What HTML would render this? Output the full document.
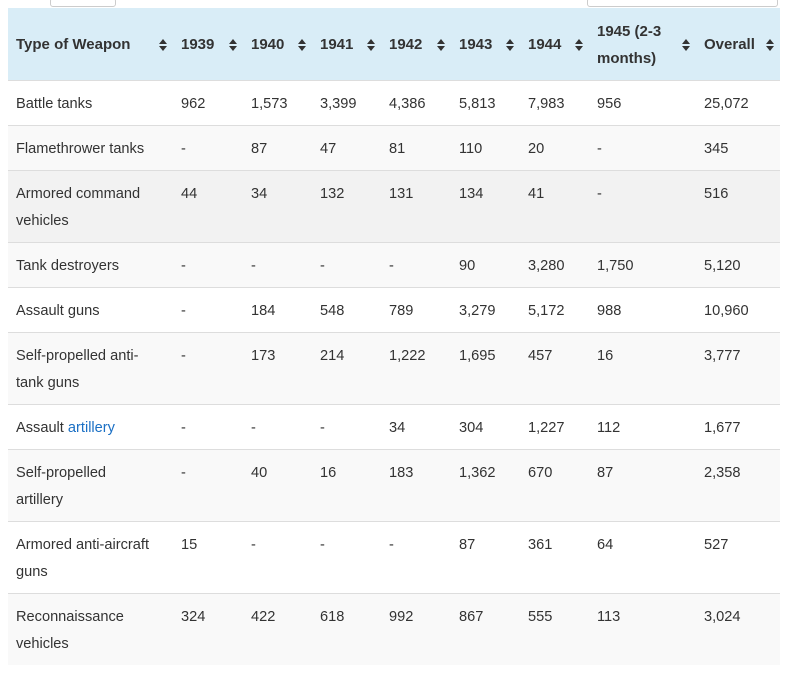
<!DOCTYPE html>
<html><head><meta charset="utf-8"><style>
body{margin:0;background:#fff;width:787px;height:675px;overflow:hidden;font-family:"Liberation Sans",sans-serif;color:#333;position:relative}
.box{position:absolute;top:-2px;height:7px;border:1px solid #ccc;border-radius:3px;background:#fff}
table{position:absolute;left:8px;top:8px;width:772px;border-collapse:collapse;table-layout:fixed;font-size:14.6px}
td,th{padding:10px 8px 7px 8px;line-height:27px;vertical-align:top;text-align:left;white-space:nowrap}
th{background:#d9edf7;font-weight:bold;font-size:15px;height:55px;padding:9px 20px 8px 8px;vertical-align:middle;position:relative;white-space:normal}
th:after{content:"";position:absolute;right:6px;top:31px;border:4px solid transparent;border-bottom:5px solid #333;border-top:none}
th:before{content:"";position:absolute;right:6px;top:38px;border:4px solid transparent;border-top:5px solid #333;border-bottom:none}
tr{border-bottom:1px solid #ddd}
tbody tr:nth-child(even){background:#f9f9f9}
tbody tr:nth-child(3){background:#f2f2f2}
td{height:27px}
a{color:#1a6fc4;text-decoration:none}
</style></head><body>
<div class="box" style="left:50px;width:64px"></div>
<div class="box" style="left:587px;width:189px"></div>
<table>
<colgroup><col style="width:165px"><col style="width:70px"><col style="width:69px"><col style="width:69px"><col style="width:70px"><col style="width:69px"><col style="width:69px"><col style="width:107px"><col style="width:84px"></colgroup>
<thead><tr><th>Type of Weapon</th><th>1939</th><th>1940</th><th>1941</th><th>1942</th><th>1943</th><th>1944</th><th>1945 (2-3 months)</th><th>Overall</th></tr></thead>
<tbody>
<tr><td>Battle tanks</td><td>962</td><td>1,573</td><td>3,399</td><td>4,386</td><td>5,813</td><td>7,983</td><td>956</td><td>25,072</td></tr>
<tr><td>Flamethrower tanks</td><td>-</td><td>87</td><td>47</td><td>81</td><td>110</td><td>20</td><td>-</td><td>345</td></tr>
<tr><td>Armored command<br>vehicles</td><td>44</td><td>34</td><td>132</td><td>131</td><td>134</td><td>41</td><td>-</td><td>516</td></tr>
<tr><td>Tank destroyers</td><td>-</td><td>-</td><td>-</td><td>-</td><td>90</td><td>3,280</td><td>1,750</td><td>5,120</td></tr>
<tr><td>Assault guns</td><td>-</td><td>184</td><td>548</td><td>789</td><td>3,279</td><td>5,172</td><td>988</td><td>10,960</td></tr>
<tr><td>Self-propelled anti-<br>tank guns</td><td>-</td><td>173</td><td>214</td><td>1,222</td><td>1,695</td><td>457</td><td>16</td><td>3,777</td></tr>
<tr><td>Assault <a>artillery</a></td><td>-</td><td>-</td><td>-</td><td>34</td><td>304</td><td>1,227</td><td>112</td><td>1,677</td></tr>
<tr><td>Self-propelled<br>artillery</td><td>-</td><td>40</td><td>16</td><td>183</td><td>1,362</td><td>670</td><td>87</td><td>2,358</td></tr>
<tr><td>Armored anti-aircraft<br>guns</td><td>15</td><td>-</td><td>-</td><td>-</td><td>87</td><td>361</td><td>64</td><td>527</td></tr>
<tr style="border-bottom:none"><td>Reconnaissance<br>vehicles</td><td>324</td><td>422</td><td>618</td><td>992</td><td>867</td><td>555</td><td>113</td><td>3,024</td></tr>
</tbody></table>
</body></html>
